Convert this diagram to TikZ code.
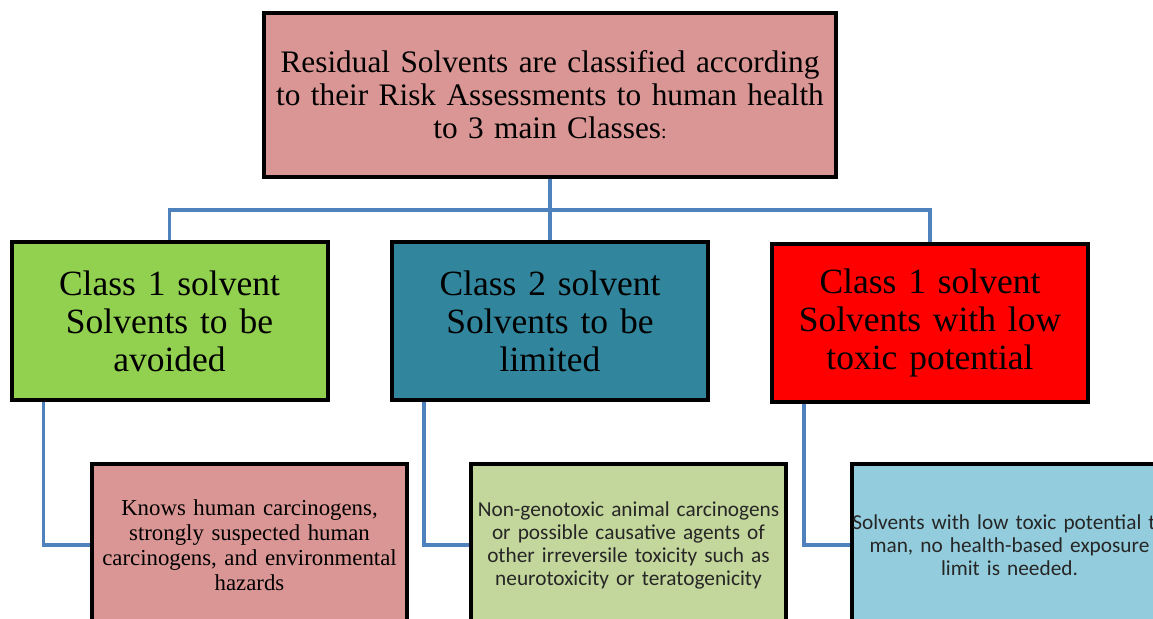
\documentclass[tikz,border=0pt]{standalone}
\usepackage{fontspec}
\setmainfont{Liberation Serif}
\newfontfamily\calibri{Carlito}
\definecolor{boxpink}{HTML}{D99694}
\definecolor{boxgreen}{HTML}{92D050}
\definecolor{boxteal}{HTML}{31859C}
\definecolor{boxred}{HTML}{FF0000}
\definecolor{boxolive}{HTML}{C3D69B}
\definecolor{boxblue}{HTML}{93CDDD}
\definecolor{linkblue}{HTML}{4F81BD}
\begin{document}
\begin{tikzpicture}[x=1pt,y=-1pt,
  box/.style={draw=black,line width=4pt,align=center,inner sep=0pt},
  clsbox/.style={box,minimum width=316pt,minimum height=158pt,text width=310pt,
    font=\fontsize{35.5}{38}\selectfont},
  subbox/.style={box,minimum width=315pt,minimum height=162pt,text width=314pt},
  link/.style={draw=linkblue,line width=3.5pt}]
\useasboundingbox (0,0) rectangle (1153,618);
\clip (0,0) rectangle (1153,618);

% top box
\node[box,fill=boxpink,minimum width=572pt,minimum height=164pt,text width=566pt,
  font=\fontsize{31.3}{33}\selectfont] (top) at (550,95)
  {Residual Solvents are classified according\\to their Risk Assessments to human health\\to 3 main Classes{\fontsize{20}{33}\selectfont:}};

% classes
\node[clsbox,fill=boxgreen] (cls1) at (169.5,321) {Class 1 solvent\\Solvents to be\\avoided};
\node[clsbox,fill=boxteal] (cls2) at (550,321) {Class 2 solvent\\Solvents to be\\limited};
\node[clsbox,fill=boxred] (cls3) at (930,322.5) {Class 1 solvent\\Solvents with low\\toxic potential};

% descriptions
\node[subbox,fill=boxpink,font=\fontsize{22.8}{25}\selectfont] (sub1) at (249.5,545)
  {Knows human carcinogens,\\strongly suspected human\\carcinogens, and environmental\\hazards};
\node[subbox,fill=boxolive,font=\calibri\fontsize{21.3}{23}\selectfont,text=black!85] (sub2) at (628.5,545)
  {Non-genotoxic animal carcinogens\\or possible causative agents of\\other irreversile toxicity such as\\neurotoxicity or teratogenicity};
\node[subbox,fill=boxblue,font=\calibri\fontsize{21.3}{23}\selectfont,text=black!85] (sub3) at (1009.5,545)
  {\makebox[\linewidth][c]{Solvents with low toxic potential to}\\man, no health-based exposure\\limit is needed.};

% connectors
\coordinate (bus) at (550,210);
\draw[link] (top.south) -- (bus);
\foreach \n in {cls1,cls2,cls3}
  \draw[link] (bus) -| (\n.north);
\foreach \a/\b in {cls1/sub1,cls2/sub2,cls3/sub3}
  \draw[link] ([xshift=34pt]\a.south west) |- (\b.west);
\end{tikzpicture}
\end{document}
